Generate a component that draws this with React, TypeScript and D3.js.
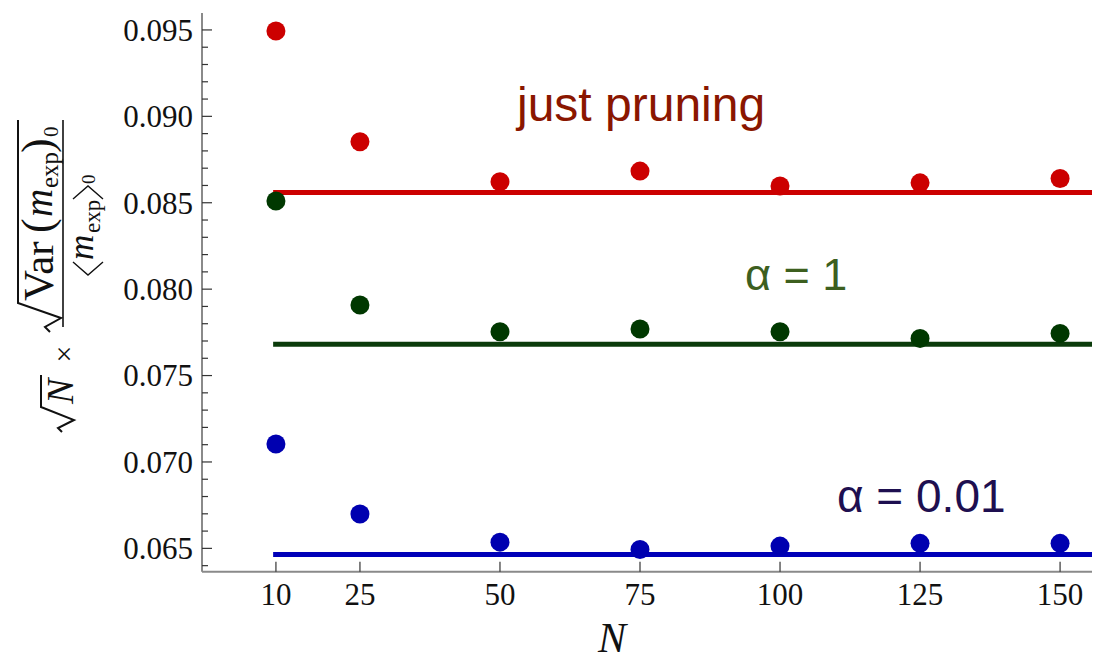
import React from "react";
import * as d3 from "d3";

const Ns = [10, 25, 50, 75, 100, 125, 150];
const pruningValues = [0.09494, 0.08853, 0.08622, 0.08683, 0.08597, 0.08615, 0.0864];
const alpha1Values = [0.0851, 0.07908, 0.07754, 0.07769, 0.07753, 0.07715, 0.07744];
const alpha001Values = [0.07104, 0.06699, 0.06536, 0.06493, 0.06513, 0.06529, 0.06529];
const pruningLevel = 0.0856;
const alpha1Level = 0.07681;
const alpha001Level = 0.06465;
const yMajorTicks = [0.065, 0.07, 0.075, 0.08, 0.085, 0.09, 0.095];
const yTickLabels = ["0.065", "0.070", "0.075", "0.080", "0.085", "0.090", "0.095"];
const xTickLabels = ["10", "25", "50", "75", "100", "125", "150"];

const series = [
  { name: "just pruning", values: pruningValues, level: pruningLevel, dot: "#cc0000", line: "#cc0000", label: "just pruning", labelColor: "#8a1600", lx: 517, ly: 121, fs: 48 },
  { name: "alpha1", values: alpha1Values, level: alpha1Level, dot: "#003800", line: "#0b3b0b", label: "α = 1", labelColor: "#3d5f1f", lx: 745, ly: 290, fs: 45 },
  { name: "alpha001", values: alpha001Values, level: alpha001Level, dot: "#0000b0", line: "#0000b8", label: "α = 0.01", labelColor: "#1e0f50", lx: 837, ly: 512, fs: 46 },
];

export default function App() {
  const W = 1094, H = 662;
  const x = d3.scaleLinear().domain([-3.2, 155.7]).range([202, 1092]);
  const y = d3.scaleLinear().domain([0.06365, 0.09598]).range([571.7, 13]);
  const minor = d3.range(64, 95).map((v) => v / 1000).filter((v) => Math.round(v * 1000) % 5 !== 0);
  const line = d3.line<[number, number]>().x((d) => x(d[0])).y((d) => y(d[1]));
  const serif = "Liberation Serif, Tinos, Times New Roman, Times, serif";
  const sans = "Liberation Sans, Arimo, Arial, Helvetica, sans-serif";
  const axisY = y.range()[0];

  return (
    <svg width={W} height={H} style={{ position: "absolute", left: 0, top: 0, background: "#fff" }}>
      <rect width={W} height={H} fill="#fff" />
      {/* axes */}
      <line x1={202} x2={202} y1={13} y2={axisY} stroke="#8a8a8a" strokeWidth={2} />
      <line x1={202} x2={1092} y1={axisY} y2={axisY} stroke="#8a8a8a" strokeWidth={2} />
      {yMajorTicks.map((t, i) => (
        <g key={"ym" + i}>
          <line x1={202} x2={212} y1={y(t)} y2={y(t)} stroke="#333" strokeWidth={1.2} />
          <text x={193} y={y(t)} dy="0.35em" textAnchor="end" fontFamily={serif} fontSize={31} fill="#111">
            {yTickLabels[i]}
          </text>
        </g>
      ))}
      {minor.map((t, i) => (
        <line key={"yn" + i} x1={202} x2={208} y1={y(t)} y2={y(t)} stroke="#333" strokeWidth={1.2} />
      ))}
      {Ns.map((n, i) => (
        <g key={"xt" + i}>
          <line x1={x(n)} x2={x(n)} y1={axisY} y2={axisY - 10} stroke="#333" strokeWidth={1.2} />
          <text x={x(n)} y={605} textAnchor="middle" fontFamily={serif} fontSize={31} fill="#111">
            {xTickLabels[i]}
          </text>
        </g>
      ))}
      <text x={612} y={652} textAnchor="middle" fontFamily={serif} fontStyle="italic" fontSize={42} fill="#111">
        N
      </text>

      {/* y axis title */}
      <g transform="rotate(-90)" fill="#111" fontFamily={serif}>
        {/* sqrt N */}
        <path d="M-432,62 L-428,58 L-420,74 L-407,41 L-375,41" fill="none" stroke="#111" strokeWidth={2} />
        <text x={-404} y={73} fontSize={38} fontStyle="italic">N</text>
        <text x={-354} y={63} fontSize={30} textAnchor="middle" dy="0.35em">×</text>
        {/* numerator radical */}
        <path d="M-332,50 L-327,45 L-318,61 L-303,18 L-120,18" fill="none" stroke="#111" strokeWidth={2} />
        <text x={-301} y={53} fontSize={43}>Var</text>
        <text x={-233} y={52} fontSize={44}>(</text>
        <text x={-217} y={52} fontSize={39} fontStyle="italic">m</text>
        <text x={-188} y={58} fontSize={25}>exp</text>
        <text x={-153} y={52} fontSize={44}>)</text>
        <text x={-137} y={58} fontSize={21}>0</text>
        {/* fraction bar */}
        <line x1={-327} x2={-120} y1={63} y2={63} stroke="#111" strokeWidth={1.6} />
        {/* denominator */}
        <path d="M-262,73 L-275,88 L-262,103" fill="none" stroke="#111" strokeWidth={1.4} />
        <text x={-260} y={93} fontSize={35} fontStyle="italic">m</text>
        <text x={-233} y={100} fontSize={23}>exp</text>
        <path d="M-199,73 L-186,88 L-199,103" fill="none" stroke="#111" strokeWidth={1.4} />
        <text x={-184} y={95} fontSize={19}>0</text>
      </g>

      {/* series */}
      {series.map((s) => (
        <g key={s.name}>
          <path
            d={line([[9.5, s.level], [155.7, s.level]]) || ""}
            stroke={s.line}
            strokeWidth={5}
            fill="none"
          />
          {s.values.map((v, i) => (
            <circle key={i} cx={x(Ns[i])} cy={y(v)} r={9.5} fill={s.dot} />
          ))}
          <text x={s.lx} y={s.ly} fontFamily={sans} fontSize={s.fs} fill={s.labelColor}>
            {s.label}
          </text>
        </g>
      ))}
    </svg>
  );
}
